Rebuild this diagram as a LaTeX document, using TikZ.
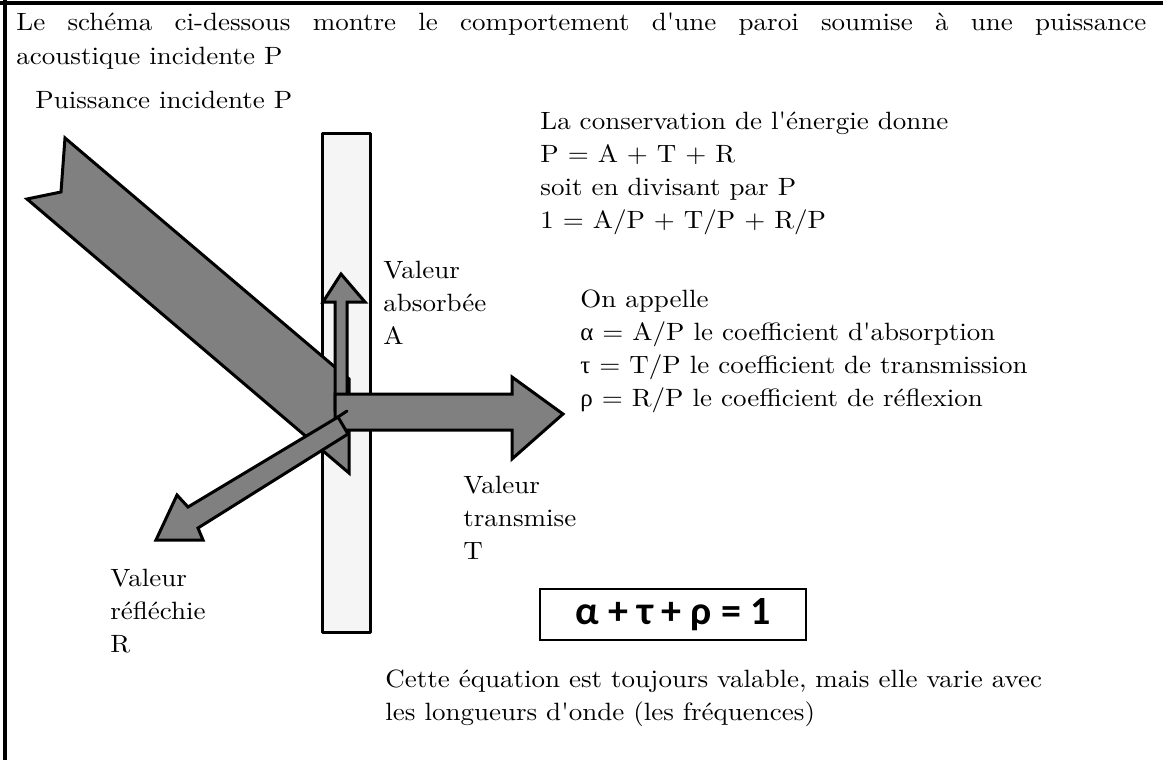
\documentclass[tikz,border=0pt]{standalone}
\usepackage{fontspec}
\usepackage{tkz-euclide}
\newfontfamily\textefont{lmroman10-regular.otf}[FakeStretch=1.08]
\newfontfamily\grec{Liberation Serif}
\newfontfamily\eqfont{Carlito}
\definecolor{fluxgray}{HTML}{808080}
\definecolor{wallgray}{HTML}{F5F5F5}
\tikzset{
  txt/.style={anchor=base west, inner sep=0pt, align=left,
    font=\textefont\fontsize{12.5}{16.5}\selectfont},
  flux/.style={fill=fluxgray, draw=black, line width=1.5pt, line join=miter},
  wall/.style={fill=wallgray, draw=black, line width=1.5pt},
}
\begin{document}
\begin{tikzpicture}[x=0.5pt,y=-0.5pt]
    \useasboundingbox (0,0) rectangle (1163,760);
    % cadre
    \coordinate (F0) at (0,3);
    \coordinate (F1) at (1163,3);
    \coordinate (F2) at (5,0);
    \coordinate (F3) at (5,760);
    \tkzDrawSegments[line width=1.6pt](F0,F1 F2,F3)
    % paroi
    \coordinate (W1) at (322,133);
    \coordinate (W2) at (370,133);
    \coordinate (W3) at (370,632);
    \coordinate (W4) at (322,632);
    \tkzDrawPolygon[wall](W1,W2,W3,W4)
    % puissance incidente
    \coordinate (I1) at (65,138);
    \coordinate (I2) at (349,379);
    \coordinate (I3) at (349,473);
    \coordinate (I4) at (27,199);
    \coordinate (I5) at (61,192);
    \tkzDrawPolygon[flux](I1,I2,I3,I4,I5)
    % absorbee
    \coordinate (A1) at (335,410);
    \coordinate (A2) at (335,302);
    \coordinate (A3) at (323,302);
    \coordinate (A4) at (341,274);
    \coordinate (A5) at (365,302);
    \coordinate (A6) at (347,302);
    \coordinate (A7) at (347,410);
    \tkzDrawPolygon[flux](A1,A2,A3,A4,A5,A6,A7)
    % transmise
    \coordinate (T1) at (335,394);
    \coordinate (T2) at (512,394);
    \coordinate (T3) at (512,377);
    \coordinate (T4) at (563,414);
    \coordinate (T5) at (512,459);
    \coordinate (T6) at (512,430);
    \coordinate (T7) at (335,430);
    \tkzDrawPolygon[flux](T1,T2,T3,T4,T5,T6,T7)
    % reflechie
    \coordinate (R1) at (338,417);
    \coordinate (R2) at (188,507);
    \coordinate (R3) at (177,495);
    \coordinate (R4) at (156,540);
    \coordinate (R5) at (203,540);
    \coordinate (R6) at (198,528);
    \coordinate (R7) at (348,434);
    \coordinate (R8) at (347,411);
    \tkzDrawPolygon[flux](R1,R2,R3,R4,R5,R6,R7)
    \tkzDrawSegments[line width=1.5pt](R1,R8)
    % textes (ancre sur la derniere ligne)
    \node[txt] (titre1) at (16,31)
      {\makebox[565pt][s]{Le schéma ci-dessous montre le comportement d'une paroi soumise à une puissance}};
    \node[txt] (titre2) at (16,64) {acoustique incidente P};
    \node[txt] (incid) at (35,108) {Puissance incidente P};
    \node[txt] (conserv) at (540,228) {La conservation de l'énergie donne\\
      P = A + T + R\\ soit en divisant par P\\ 1 = A/P + T/P + R/P};
    \node[txt] (labA) at (383,344) {Valeur\\ absorbée\\ A};
    \node[txt] (appel) at (580,406) {On appelle\\
      {\grec α} = A/P le coefficient d'absorption\\
      {\grec τ} = T/P le coefficient de transmission\\
      {\grec ρ} = R/P le coefficient de réflexion};
    \node[txt] (labT) at (463,559) {Valeur\\ transmise\\ T};
    \node[txt] (labR) at (110,652) {Valeur\\ réfléchie\\ R};
    \node[draw, line width=1pt, minimum width=133pt, minimum height=25.5pt,
      font=\eqfont\bfseries\fontsize{20}{22}\selectfont] (somme) at (673,614.5)
      {α + τ + ρ = 1};
    \node[txt] (remarque) at (385,720) {Cette équation est toujours valable, mais elle varie avec\\
      les longueurs d'onde (les fréquences)};
\end{tikzpicture}
\end{document}
